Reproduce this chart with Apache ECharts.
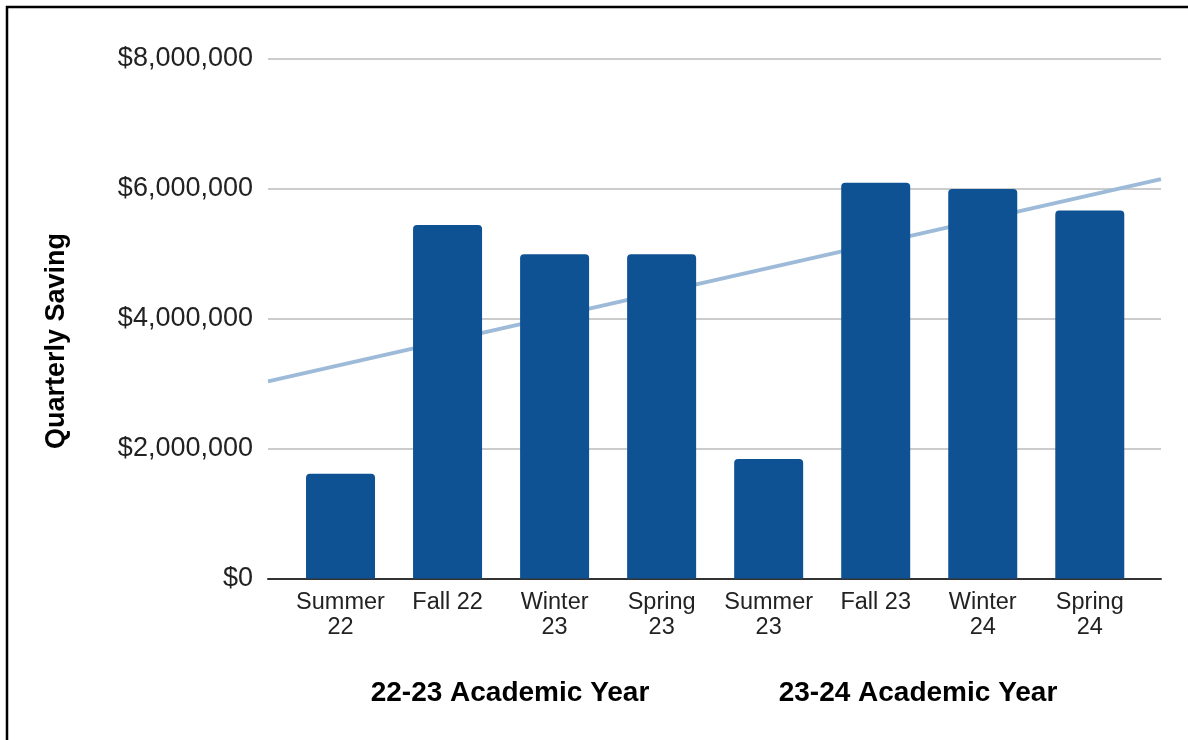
<!DOCTYPE html>
<html>
<head>
<meta charset="utf-8">
<script src="https://cdn.jsdelivr.net/npm/echarts@6/dist/echarts.min.js"></script>
<style>
html,body{margin:0;padding:0;background:#fff;}
#chart{width:1188px;height:740px;}
</style>
</head>
<body>
<div id="chart"></div>
<script>
// ---- data ----
var categories = ['Summer\n22', 'Fall 22', 'Winter\n23', 'Spring\n23', 'Summer\n23', 'Fall 23', 'Winter\n24', 'Spring\n24'];
var savings = [1610000, 5440000, 4990000, 4990000, 1837000, 6087000, 5994000, 5660000];
// trendline values read at left and right edges of the plot
var trendEnds = [3033000, 6144000];
var yTicks = [0, 2000000, 4000000, 6000000, 8000000];
var yearGroups = ['22-23 Academic Year', '23-24 Academic Year'];
var yTitle = 'Quarterly Saving';

var FONT = '"Liberation Sans", Arial, sans-serif';
var chart = echarts.init(document.getElementById('chart'), null, {renderer: 'canvas'});

var option = {
  backgroundColor: '#fff',
  animation: false,
  grid: [
    {left: 268, right: 27, top: 58.5, bottom: 161.5},
    {left: 287, right: 44.7, top: 58.5, bottom: 161.5}
  ],
  xAxis: [
    {type: 'value', gridIndex: 0, min: 0, max: 1,
     axisLine: {show: true, onZero: false, lineStyle: {color: '#333', width: 2}},
     axisTick: {show: false}, axisLabel: {show: false}, splitLine: {show: false}},
    {type: 'category', gridIndex: 1, data: categories,
     axisLine: {show: false}, axisTick: {show: false},
     axisLabel: {fontFamily: FONT, fontSize: 23.5, color: '#222', lineHeight: 25.5, margin: 11, interval: 0}}
  ],
  yAxis: [
    {type: 'value', gridIndex: 0, min: yTicks[0], max: yTicks[yTicks.length - 1], interval: yTicks[1] - yTicks[0],
     axisLine: {show: false}, axisTick: {show: false},
     axisLabel: {fontFamily: FONT, fontSize: 27, color: '#222', margin: 15,
       formatter: function (v) { return '$' + v.toLocaleString('en-US'); }},
     splitLine: {lineStyle: {color: '#cccccc', width: 2}}},
    {type: 'value', gridIndex: 1, min: yTicks[0], max: yTicks[yTicks.length - 1], show: false, splitLine: {show: false}}
  ],
  series: [
    {type: 'line', xAxisIndex: 0, yAxisIndex: 0, z: 1,
     data: [[0, trendEnds[0]], [1, trendEnds[1]]],
     symbol: 'none', lineStyle: {color: '#9dbbd8', width: 4}},
    {type: 'bar', xAxisIndex: 1, yAxisIndex: 1, z: 3, data: savings, barWidth: 69,
     itemStyle: {color: '#0f5294', borderRadius: [4, 4, 0, 0]}}
  ],
  graphic: [
    {type: 'rect', shape: {x: 7, y: 7, width: 1300, height: 900}, style: {fill: 'none', stroke: '#000', lineWidth: 2.5}, z: 10},
    {type: 'text', x: 57, y: 341, rotation: Math.PI / 2,
     style: {text: yTitle, font: 'bold 27px ' + FONT, fill: '#000', textAlign: 'center', textVerticalAlign: 'middle'}},
    {type: 'text', x: 510, y: 693,
     style: {text: yearGroups[0], font: 'bold 28px ' + FONT, fill: '#000', textAlign: 'center', textVerticalAlign: 'middle'}},
    {type: 'text', x: 918, y: 693,
     style: {text: yearGroups[1], font: 'bold 28px ' + FONT, fill: '#000', textAlign: 'center', textVerticalAlign: 'middle'}}
  ]
};
chart.setOption(option);
</script>
</body>
</html>
